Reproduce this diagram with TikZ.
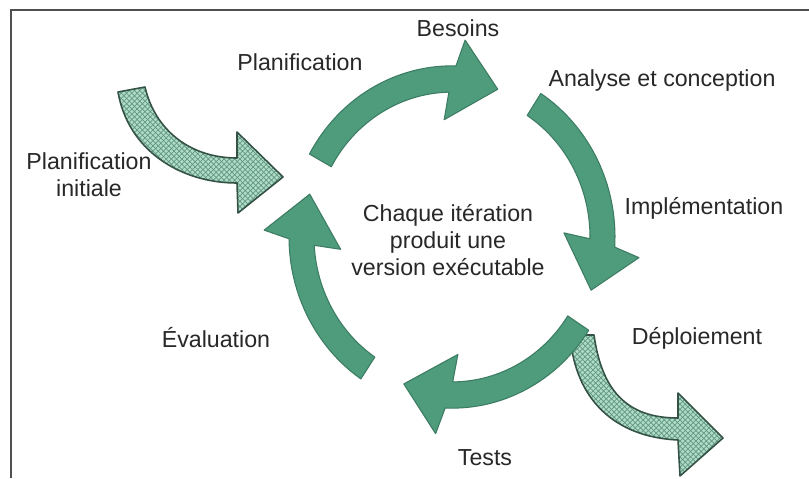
\documentclass[tikz,border=0pt]{standalone}
\usepackage{fontspec}
\setmainfont{Liberation Sans}
\usetikzlibrary{patterns}

\definecolor{cyclegreen}{RGB}{78,156,124}
\definecolor{cycleedge}{RGB}{60,124,99}
\definecolor{mintfill}{RGB}{178,220,201}
\definecolor{mintline}{RGB}{96,152,130}
\definecolor{mintedge}{RGB}{52,82,70}
\definecolor{frameline}{RGB}{80,80,80}
\definecolor{labeltext}{RGB}{40,40,40}

\tikzset{
  cyclearrow/.style={fill=cyclegreen, draw=cycleedge, line width=0.6pt, line join=round},
  sidearrow/.style={preaction={fill=mintfill}, pattern=crosshatch, pattern color=mintline,
    draw=mintedge, line width=0.9pt, line join=round},
  steplabel/.style={text=labeltext, font={\fontsize{13.2}{15.2}\selectfont}, align=center, inner sep=0pt},
}

% one arrow of the cycle: tail angle, tip angle
\newcommand{\cyclepiece}[2]{%
  \path[cyclearrow] (#1:138) arc[start angle=#1, end angle={#2+19.3}, radius=138]
    -- ({#2+22}:112) -- (#2:148) -- ({#2+14}:188) -- ({#2+16.6}:163)
    arc[start angle={#2+16.6}, end angle=#1, radius=163] -- cycle;}

\begin{document}
\begin{tikzpicture}[x=0.02cm, y=-0.02cm]

\useasboundingbox[fill=white] (0,0) rectangle (809,478);
\draw[frameline, line width=0.8pt] (11,478) -- (11,10) -- (809,10);

% entry and exit arrows
\path[sidearrow] (118,92) -- (145,87) .. controls (155,130) and (190,158) .. (237,158)
  -- (237,132) -- (283,177) -- (238,213) -- (237,183)
  .. controls (180,183) and (128,150) .. (118,92) -- cycle;

\path[sidearrow] (594,335) .. controls (602,392) and (628,418) .. (678,418)
  -- (678,393) -- (723,438) -- (680,476) -- (678,440)
  .. controls (615,437) and (575,400) .. (570,335) -- cycle;

% the cycle
\begin{scope}[shift={(452,237)}, yscale=-1.05]
\cyclepiece{151}{72}
\cyclepiece{57}{-20}
\cyclepiece{-33}{-109}
\cyclepiece{-124}{-196}
\end{scope}

\node[steplabel] (besoins) at (458,28) {Besoins};
\node[steplabel] (planif) at (300,62) {Planification};
\node[steplabel] (analyse) at (662,80) {Analyse et conception};
\node[steplabel] (initiale) at (89,175) {Planification\\initiale};
\node[steplabel] (implem) at (704,208) {Implémentation};
\node[steplabel] (centre) at (448,240) {Chaque itération\\produit une\\version exécutable};
\node[steplabel] (evaluation) at (216,338) {Évaluation};
\node[steplabel] (deploiement) at (697,338) {Déploiement};
\node[steplabel] (tests) at (485,458) {Tests};

\end{tikzpicture}
\end{document}
